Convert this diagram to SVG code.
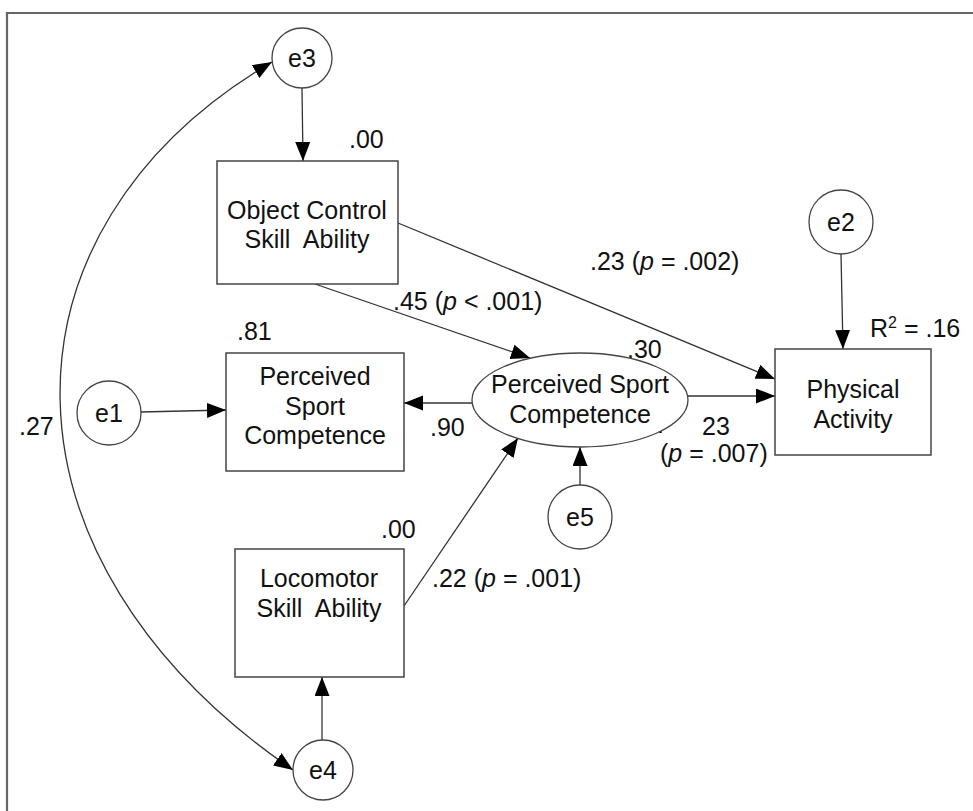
<svg xmlns="http://www.w3.org/2000/svg" width="973" height="811" viewBox="0 0 973 811">
  <style>
    .t { font-family: "Liberation Sans", Arial, sans-serif; font-size: 25px; fill: #111; }
    .c { text-anchor: middle; }
    .box { fill: #fff; stroke: #444; stroke-width: 1.5; }
    .err { fill: #fff; stroke: #444; stroke-width: 1.3; }
    .edge { fill: none; stroke: #333; stroke-width: 1.3; }
    .arr { marker-end: url(#head); }
    .frame { fill: none; stroke: #666; stroke-width: 2.2; }
  </style>
  <defs>
    <marker id="head" markerUnits="userSpaceOnUse" markerWidth="20" markerHeight="16" refX="19" refY="7.5" orient="auto-start-reverse">
      <path d="M0,0 L19,7.5 L0,15 z" fill="#000"/>
    </marker>
  </defs>

  <rect width="973" height="811" fill="#fff"/>
  <!-- outer frame: only top and left edges are drawn -->
  <path class="frame" d="M7,811 L7,13 L973,13"/>

  <!-- connectors -->
  <g id="connectors">
    <line class="edge arr" x1="302" y1="88" x2="303" y2="161"/>
    <line class="edge arr" x1="322" y1="740" x2="322" y2="677"/>
    <line class="edge arr" x1="141" y1="412" x2="226" y2="410"/>
    <line class="edge arr" x1="472" y1="403" x2="404" y2="403"/>
    <line class="edge arr" x1="688" y1="396" x2="775" y2="396"/>
    <line class="edge arr" x1="841" y1="254" x2="843" y2="349"/>
    <line class="edge arr" x1="398" y1="223" x2="775" y2="379"/>
    <line class="edge arr" x1="315" y1="284" x2="530" y2="358"/>
    <line class="edge arr" x1="404" y1="606" x2="518" y2="438"/>
    <line class="edge arr" x1="580" y1="485" x2="580" y2="447"/>
    <!-- covariance between e3 and e4 -->
    <path class="edge" marker-start="url(#head)" marker-end="url(#head)" d="M272,62 C-14,230 -14,560 293,770"/>
  </g>

  <!-- path coefficients and variance labels -->
  <g id="labels">
    <text class="t" x="349" y="148">.00</text>
    <text class="t" x="393" y="310">.45 (<tspan font-style="italic">p</tspan> &lt; .001)</text>
    <text class="t" x="590" y="270">.23 (<tspan font-style="italic">p</tspan> = .002)</text>
    <text class="t" x="870" y="337">R<tspan font-size="16" dy="-9">2</tspan><tspan dy="9"> = .16</tspan></text>
    <text class="t" x="627" y="358">.30</text>
    <text class="t" x="237" y="340">.81</text>
    <text class="t" x="430" y="436">.90</text>
    <text class="t" x="657" y="433">.</text>
    <text class="t" x="702" y="435">23</text>
    <text class="t" x="660" y="462">(<tspan font-style="italic">p</tspan> = .007)</text>
    <text class="t" x="19" y="435">.27</text>
    <text class="t" x="381" y="538">.00</text>
    <text class="t" x="432" y="587">.22 (<tspan font-style="italic">p</tspan> = .001)</text>
  </g>

  <!-- nodes -->
  <g id="e3">
    <circle class="err" cx="302" cy="58" r="30"/>
    <text class="t c" x="302" y="67">e3</text>
  </g>
  <g id="object-control">
    <rect class="box" x="217" y="161" width="181" height="123"/>
    <text class="t c" x="307" y="219">Object Control</text>
    <text class="t c" x="307" y="248" xml:space="preserve">Skill  Ability</text>
  </g>
  <g id="e2">
    <circle class="err" cx="841" cy="222" r="32"/>
    <text class="t c" x="841" y="231">e2</text>
  </g>
  <g id="physical-activity">
    <rect class="box" x="775" y="349" width="156" height="106"/>
    <text class="t c" x="853" y="398">Physical</text>
    <text class="t c" x="853" y="428">Activity</text>
  </g>
  <g id="e1">
    <circle class="err" cx="109" cy="413" r="32"/>
    <text class="t c" x="109" y="422">e1</text>
  </g>
  <g id="perceived-sport-competence-indicator">
    <rect class="box" x="226" y="353" width="178" height="118"/>
    <text class="t c" x="315" y="385">Perceived</text>
    <text class="t c" x="315" y="415">Sport</text>
    <text class="t c" x="315" y="444">Competence</text>
  </g>
  <g id="perceived-sport-competence">
    <ellipse class="err" cx="580" cy="400" rx="108" ry="47"/>
    <text class="t c" x="580" y="393">Perceived Sport</text>
    <text class="t c" x="580" y="423">Competence</text>
  </g>
  <g id="e5">
    <circle class="err" cx="580" cy="517" r="32"/>
    <text class="t c" x="580" y="526">e5</text>
  </g>
  <g id="locomotor">
    <rect class="box" x="235" y="549" width="169" height="128"/>
    <text class="t c" x="319" y="587">Locomotor</text>
    <text class="t c" x="319" y="617" xml:space="preserve">Skill  Ability</text>
  </g>
  <g id="e4">
    <circle class="err" cx="323" cy="770" r="30"/>
    <text class="t c" x="323" y="779">e4</text>
  </g>
</svg>
